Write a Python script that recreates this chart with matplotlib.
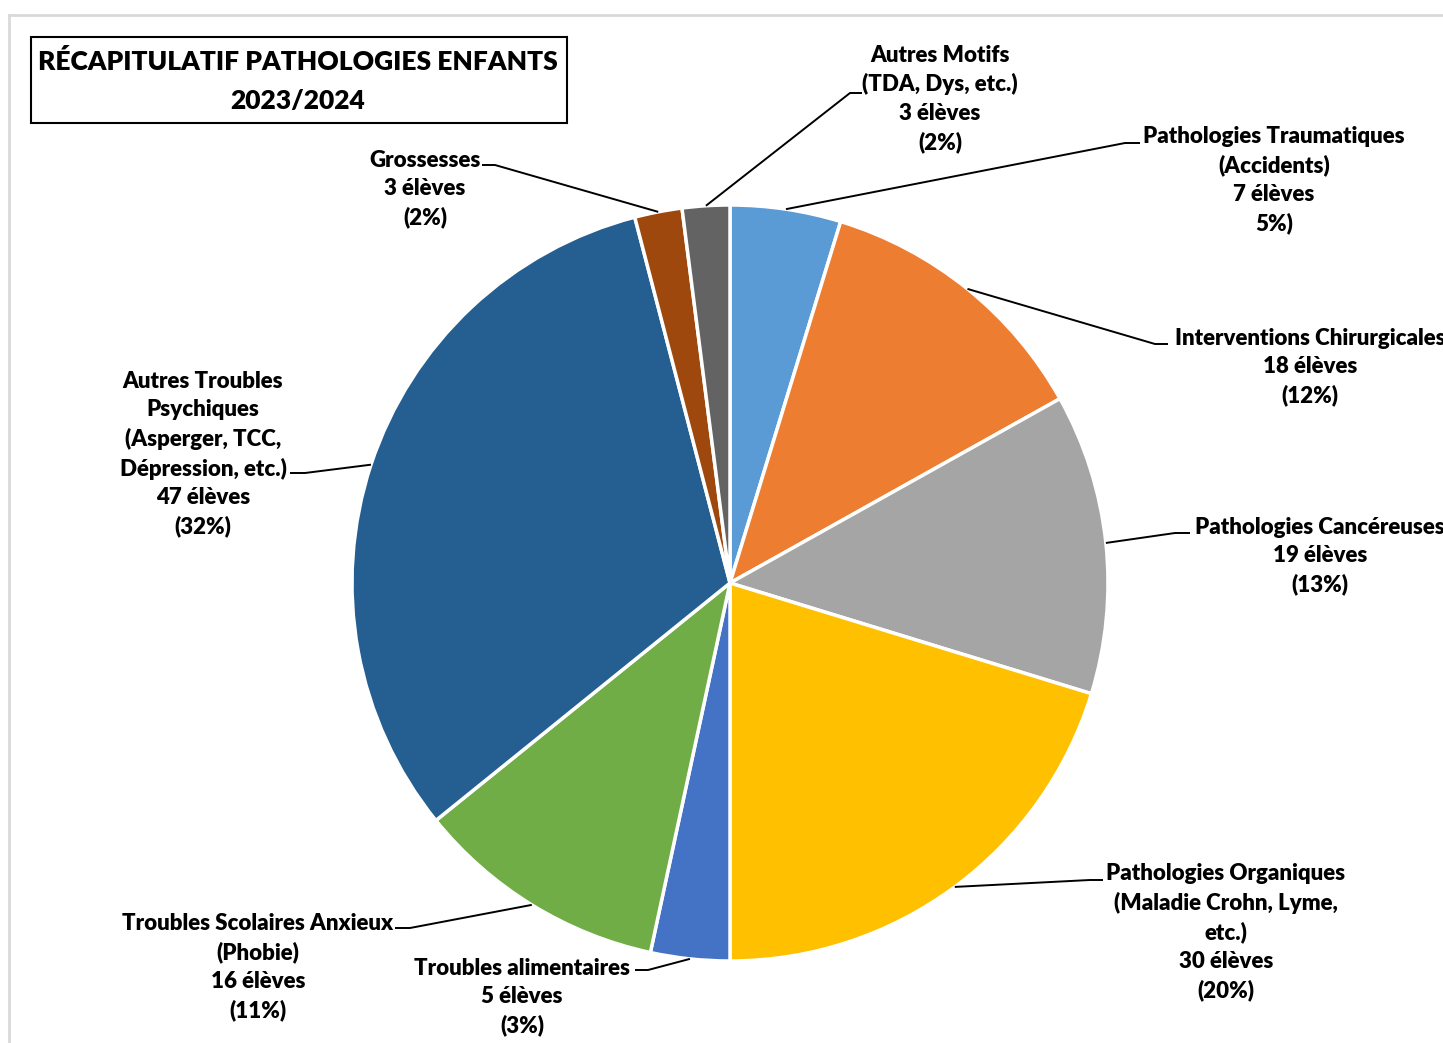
import numpy as np
import matplotlib
matplotlib.use("Agg")
import matplotlib.pyplot as plt

# ---- data (clockwise from 12 o'clock) ----
names = [
    "Pathologies Traumatiques\n(Accidents)",
    "Interventions Chirurgicales",
    "Pathologies Cancéreuses",
    "Pathologies Organiques\n(Maladie Crohn, Lyme,\netc.)",
    "Troubles alimentaires",
    "Troubles Scolaires Anxieux\n(Phobie)",
    "Autres Troubles\nPsychiques\n(Asperger, TCC,\nDépression, etc.)",
    "Grossesses",
    "Autres Motifs\n(TDA, Dys, etc.)",
]
values = [7, 18, 19, 30, 5, 16, 47, 3, 3]
pct_fmt = ["{}%)", "({}%)", "({}%)", "({}%)", "({}%)", "({}%)", "({}%)", "({}%)", "({}%)"]
colors = ["#5B9BD5", "#ED7D31", "#A5A5A5", "#FFC000", "#4472C4",
          "#70AD47", "#255E91", "#9E480E", "#636363"]
title = "RÉCAPITULATIF PATHOLOGIES ENFANTS\n2023/2024"

# ---- layout (pixel coords, y measured from top) ----
W, H = 1443, 1043
cx, cy, R = 730, 583, 378
label_xy = [(1274, 180), (1310, 367), (1320, 556), (1226, 932), (522, 997),
            (258, 967), (203, 454), (425, 189), (940, 99)]
elbow = [(1125, 143), (1155, 344), (1175, 533), (1090, 880), (648, 970),
         (410, 928), (305, 473), (495, 165), (850, 93)]
line_end = [(1140, 143), (1168, 344), (1190, 533), (1103, 880), (635, 970),
            (395, 928), (290, 473), (482, 165), (862, 93)]

def Y(y):
    return H - y

FONT = ["Lato", "DejaVu Sans"]

fig = plt.figure(figsize=(W / 100, H / 100), dpi=100)
ax = fig.add_axes([0, 0, 1, 1])

wedges, _ = ax.pie(values, colors=colors, startangle=90, counterclock=False,
                   radius=R, center=(cx, Y(cy)),
                   wedgeprops=dict(edgecolor="white", linewidth=2.5))

ax.set_xlim(0, W)
ax.set_ylim(0, H)
ax.set_aspect("equal")
ax.set_axis_off()

total = sum(values)
for i, w in enumerate(wedges):
    mid = np.deg2rad((w.theta1 + w.theta2) / 2)
    sx = cx + R * np.cos(mid)
    sy = Y(cy) + R * np.sin(mid)
    ex, ey = elbow[i]
    fx, fy = line_end[i]
    ax.plot([sx, ex, fx], [sy, Y(ey), Y(fy)], color="black", lw=1.4,
            solid_capstyle="butt", zorder=3)
    pct = round(values[i] / total * 100)
    txt = f"{names[i]}\n{values[i]} élèves\n" + pct_fmt[i].format(pct)
    lx, ly = label_xy[i]
    ax.text(lx, Y(ly), txt, ha="center", va="center", fontsize=16,
            fontweight=800, family=FONT, linespacing=1.43, color="black")

# title box
ax.add_patch(plt.Rectangle((31, Y(123)), 536, 86, fill=False,
                           edgecolor="black", lw=1.5, zorder=4))
ax.text(298, Y(81), title, ha="center", va="center", fontsize=19,
        fontweight=800, family=FONT, linespacing=1.72)

# outer chart frame
ax.plot([9, W + 5], [Y(15), Y(15)], color="#D9D9D9", lw=2)
ax.plot([9, 9], [Y(15), -5], color="#D9D9D9", lw=2)

fig.savefig("out.png", dpi=100)
